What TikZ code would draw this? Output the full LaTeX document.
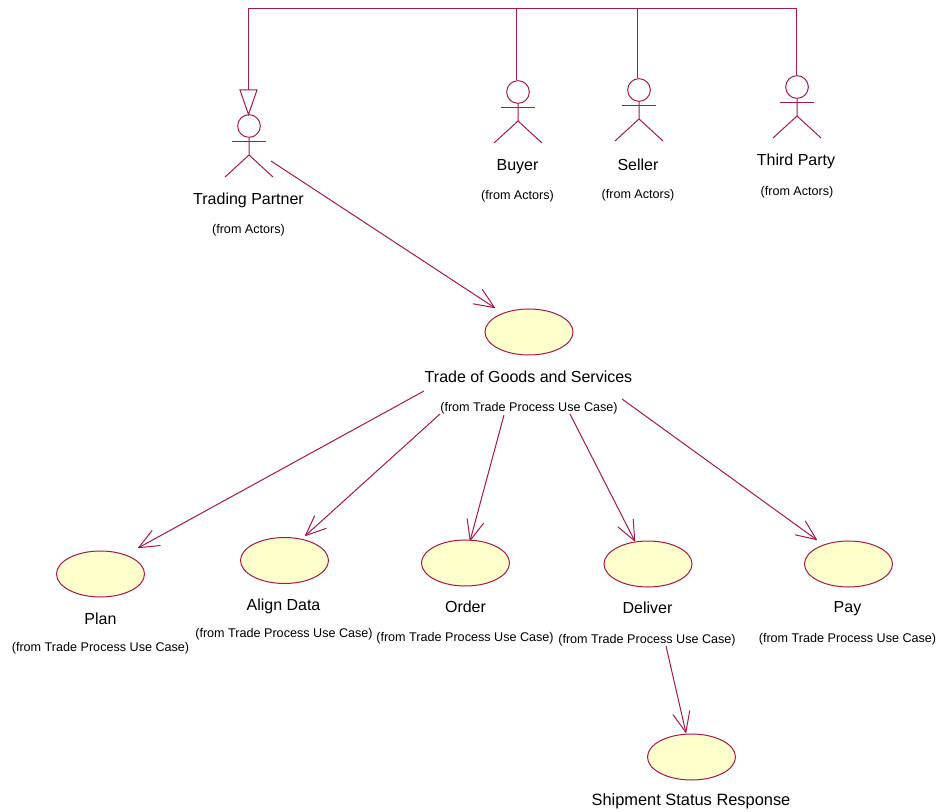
\documentclass[tikz,border=0pt]{standalone}
\usepackage{fontspec}
\setmainfont{Liberation Sans}
\usetikzlibrary{shapes.geometric}
\definecolor{umlline}{HTML}{A8174A}
\definecolor{umlfill}{HTML}{FFFFCB}
\pgfarrowsdeclare{vbarb}{vbarb}{\pgfarrowsleftextend{-1pt}\pgfarrowsrightextend{0.5pt}}{%
  \pgfsetdash{}{0pt}\pgfsetroundjoin\pgfsetroundcap
  \pgfpathmoveto{\pgfpoint{-15pt}{6.4pt}}%
  \pgfpathlineto{\pgfpointorigin}%
  \pgfpathlineto{\pgfpoint{-15pt}{-6.4pt}}%
  \pgfusepathqstroke}
\tikzset{
  x=0.75pt,y=-0.75pt,
  umlstroke/.style={draw=umlline,line width=0.75pt},
  dep/.style={umlstroke,-vbarb},
  usecase/.style={ellipse,umlstroke,fill=umlfill,minimum width=66pt,minimum height=34.5pt,inner sep=0pt},
  bigtext/.style={font=\fontsize{12}{14}\selectfont,inner sep=0pt,text=black},
  widetext/.style={font=\fontsize{12.3}{14}\selectfont,inner sep=0pt,text=black},
  smalltext/.style={font=\fontsize{9.45}{11}\selectfont,inner sep=0pt,text=black},
  actorhead/.style={circle,umlstroke,minimum size=17pt,inner sep=0pt},
  actor/.pic={
    \node[actorhead] (-head) at (0,0) {};
    \coordinate (-hip) at (0,29);
    \coordinate (-armL) at (-17,15.5);
    \coordinate (-armR) at (17,15.5);
    \coordinate (-footL) at (-24,51);
    \coordinate (-footR) at (24,51);
    \draw[umlstroke] (-head.south) -- (-hip) -- (-footL);
    \draw[umlstroke] (-hip) -- (-footR);
    \draw[umlstroke] (-armL) -- (-armR);
  }
}
\begin{document}
\begin{tikzpicture}
\path[use as bounding box] (0,0) rectangle (942,812);

% actors
\pic (tp) at (249,126) {actor};
\pic (buyer) at (518,92) {actor};
\pic (seller) at (639,90) {actor};
\pic (third) at (797,87) {actor};

\node[bigtext] (tpname) at (248.5,200.5) {Trading Partner};
\node[smalltext] (tpfrom) at (248.5,230) {(from Actors)};
\node[bigtext] (buyername) at (517.5,167) {Buyer};
\node[smalltext] (buyerfrom) at (517.5,196) {(from Actors)};
\node[bigtext] (sellername) at (638,164.5) {Seller};
\node[smalltext] (sellerfrom) at (638,195) {(from Actors)};
\node[bigtext] (thirdname) at (796,161.5) {Third Party};
\node[smalltext] (thirdfrom) at (797,192) {(from Actors)};

% use cases
\node[usecase] (trade) at (529,332) {};
\node[usecase] (plan) at (100.5,574) {};
\node[usecase] (align) at (284.5,560.5) {};
\node[usecase] (order) at (465.5,563) {};
\node[usecase] (deliver) at (648,564) {};
\node[usecase] (pay) at (848.5,564) {};
\node[usecase] (ship) at (691.5,757) {};

\node[bigtext] (tradename) at (528.5,376.5) {Trade of Goods and Services};
\node[smalltext] (tradefrom) at (529,408) {(from Trade Process Use Case)};
\node[bigtext] (planname) at (100.5,618.5) {Plan};
\node[smalltext] (planfrom) at (100.5,648) {(from Trade Process Use Case)};
\node[bigtext] (alignname) at (283.5,606) {Align Data};
\node[smalltext] (alignfrom) at (284,634) {(from Trade Process Use Case)};
\node[bigtext] (ordername) at (465.5,606.5) {Order};
\node[smalltext] (orderfrom) at (465,638) {(from Trade Process Use Case)};
\node[bigtext] (delivername) at (647.5,607.5) {Deliver};
\node[smalltext] (deliverfrom) at (647,640) {(from Trade Process Use Case)};
\node[bigtext] (payname) at (847.5,608.5) {Pay};
\node[smalltext] (payfrom) at (847.5,639) {(from Trade Process Use Case)};
\node[widetext] (shipname) at (691,801.5) {Shipment Status Response};

% generalisation tree
\coordinate (trunk) at (248,9);
\coordinate (gbase) at (248,90);
\coordinate (gL) at (240,90);
\coordinate (gR) at (257,90);
\coordinate (gtip) at (248.5,114.5);
\coordinate (jbuyer) at (516.5,9);
\coordinate (buyertop) at (516.5,80);
\coordinate (jseller) at (637,9);
\coordinate (sellertop) at (637,78);
\coordinate (jthird) at (796,9);
\coordinate (thirdtop) at (796,75);
\draw[umlstroke] (gbase) -- (trunk) -- (jthird) -- (thirdtop);
\draw[umlstroke] (jbuyer) -- (buyertop);
\draw[umlstroke] (jseller) -- (sellertop);
\draw[umlstroke] (gL) -- (gR) -- (gtip) -- cycle;

% dependencies
\coordinate (s0) at (271,161);  \coordinate (e0) at (495,308);
\coordinate (s1) at (424,391);  \coordinate (e1) at (138,548);
\coordinate (s2) at (440,414);  \coordinate (e2) at (305,536);
\coordinate (s3) at (504,415);  \coordinate (e3) at (470,541);
\coordinate (s4) at (570,414);  \coordinate (e4) at (635,541.5);
\coordinate (s5) at (622,399);  \coordinate (e5) at (817,540);
\coordinate (s6) at (666,646);  \coordinate (e6) at (686,733);
\draw[dep] (s0) -- (e0);
\draw[dep] (s1) -- (e1);
\draw[dep] (s2) -- (e2);
\draw[dep] (s3) -- (e3);
\draw[dep] (s4) -- (e4);
\draw[dep] (s5) -- (e5);
\draw[dep] (s6) -- (e6);
\end{tikzpicture}
\end{document}
